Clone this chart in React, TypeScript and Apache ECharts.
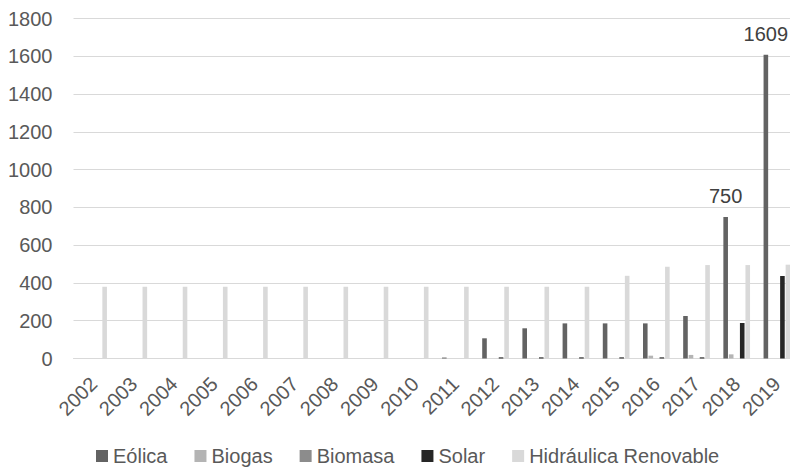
import React, { useEffect, useRef } from "react";
import * as echarts from "echarts";

const years = ["2002","2003","2004","2005","2006","2007","2008","2009","2010","2011","2012","2013","2014","2015","2016","2017","2018","2019"];
const eolica = [0,0,0,0,0,0,0,0,0,5,107,160,186,186,186,225,750,1609];
const biogas = [0,0,0,0,0,0,0,0,0,0,0,0,0,0,15,19,22,0];
const biomasa = [0,0,0,0,0,0,0,0,0,0,0,0,0,0,0,0,0,0];
const solar = [0,0,0,0,0,0,0,0,0,0,6,6,6,6,6,6,188,437];
const hidraulica = [380,380,380,380,380,380,380,380,380,380,380,380,380,438,486,495,495,497];
const labeledYears = ["2018", "2019"];
const yTicks = { min: 0, max: 1800, interval: 200 };

const FONT = "'Liberation Sans', Arial, sans-serif";

export default function App() {
  const ref = useRef<HTMLDivElement>(null);
  useEffect(() => {
    if (!ref.current) return;
    const chart = echarts.init(ref.current, null, { renderer: "svg" });
    const mk = (name: string, data: number[], color: string, labeled = false) => ({
      name,
      type: "bar",
      data,
      barWidth: 4.6,
      barGap: "20%",
      itemStyle: { color },
      label: labeled
        ? {
            show: true,
            position: "top",
            distance: 11,
            color: "#404040",
            fontSize: 20,
            fontFamily: FONT,
            formatter: (p: any) => (labeledYears.includes(p.name) ? String(p.value) : ""),
          }
        : { show: false },
    });
    chart.setOption({
      animation: false,
      textStyle: { fontFamily: FONT },
      grid: {
        left: 73.5,
        width: 723.5,
        top: 18.7,
        bottom: 109.5,
        containLabel: false,
        outerBoundsMode: "none",
      },
      legend: {
        left: 96,
        top: 446,
        padding: 0,
        itemWidth: 12,
        itemHeight: 12,
        itemGap: 27,
        icon: "rect",
        textStyle: { color: "#595959", fontSize: 20, fontFamily: FONT },
        data: ["Eólica", "Biogas", "Biomasa", "Solar", "Hidráulica Renovable"],
      },
      xAxis: {
        type: "category",
        data: years,
        axisLine: { lineStyle: { color: "#d9d9d9", width: 1 } },
        axisTick: { show: false },
        axisLabel: { rotate: 45, color: "#595959", fontSize: 20, fontFamily: FONT, margin: 22, interval: 0 },
      },
      yAxis: {
        type: "value",
        min: yTicks.min,
        max: yTicks.max,
        interval: yTicks.interval,
        axisLine: { show: false },
        axisTick: { show: false },
        splitLine: { lineStyle: { color: "#d9d9d9", width: 1 } },
        axisLabel: {
          color: "#595959",
          fontSize: 20,
          fontFamily: FONT,
          margin: 21,
          formatter: (v: number) => String(v),
        },
      },
      series: [
        mk("Eólica", eolica, "#636363", true),
        mk("Biogas", biogas, "#b4b4b4"),
        mk("Biomasa", biomasa, "#8c8c8c"),
        mk("Solar", solar, "#262626"),
        mk("Hidráulica Renovable", hidraulica, "#d9d9d9"),
      ],
    });
    return () => chart.dispose();
  }, []);
  return <div ref={ref} style={{ width: 790, height: 468, position: "absolute", left: 0, top: 0 }} />;
}
